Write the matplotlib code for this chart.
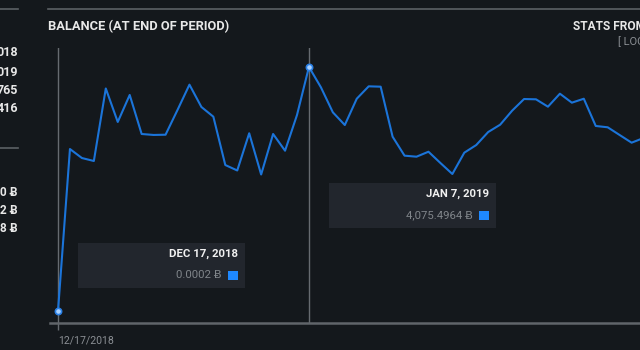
import numpy as np
import pandas as pd
import matplotlib
matplotlib.use("Agg")
import matplotlib.pyplot as plt
from matplotlib.patches import Rectangle

plt.rcParams['font.family'] = ['Roboto', 'DejaVu Sans']

# daily balance
start_date = "2018-12-17"
balance = [0.0002, 2705, 2555, 2505, 3716, 3157, 3608, 2956, 2940, 2944,
           3357, 3780, 3407, 3245, 2438, 2347, 2968, 2280, 2956, 2677,
           3273, 4075.4964, 3736, 3318, 3106, 3545, 3752, 3746, 2911, 2594,
           2577, 2660, 2472, 2288, 2644, 2772, 2989, 3111, 3345, 3540,
           3535, 3412, 3629, 3479, 3545, 3090, 3068, 2939, 2811, 2889]
dates = pd.date_range(start_date, periods=len(balance), freq="D")
tooltip_idx = [0, 21]

left_labels_top = ["018", "019", "765", "416"]
left_labels_bottom = ["0 \u0243", "2 \u0243", "8 \u0243"]

BG = "#14181c"
LINE = "#1b74d9"
GRID = "#5c6165"

W, H = 640, 350
fig = plt.figure(figsize=(6.4, 3.5), dpi=100, facecolor=BG)


def fx(x):
    return x / W


def fy(y):
    return 1 - y / H


# axes runs off the right edge like the screenshot
ax_l, ax_r, ax_t, ax_b = 49.5, 700, 48, 323
ax = fig.add_axes([fx(ax_l), fy(ax_b), (ax_r - ax_l) / W, (ax_b - ax_t) / H])
ax.set_facecolor(BG)

day_px = 11.95
x0 = dates[0] - pd.Timedelta(days=(58 - ax_l) / day_px)
x1 = dates[0] + pd.Timedelta(days=(ax_r - 58) / day_px)
ax.set_xlim(x0, x1)
ax.set_ylim(-200, 4392)

for i in tooltip_idx:
    ax.axvline(dates[i], color="#666b70", lw=1, zorder=1)

ax.plot(dates, balance, color=LINE, lw=1.5, zorder=2)
ax.plot(dates[tooltip_idx], [balance[i] for i in tooltip_idx], 'o', ms=4.5,
        mfc="#a9d1ff", mec="#2a80e6", mew=1.2, zorder=3)

for s in ["top", "right", "left"]:
    ax.spines[s].set_visible(False)
ax.spines["bottom"].set_color("#60656a")
ax.spines["bottom"].set_linewidth(1.8)
ax.set_yticks([])
ax.set_xticks([dates[0]])
ax.set_xticklabels([dates[0].strftime("%m/%d/%Y")], ha="left")
ax.tick_params(axis="x", colors="#666b70", length=5, width=1, pad=4,
               labelsize=7.6, labelcolor="#8a8e93")

# header lines and titles
fig.add_artist(plt.Line2D([fx(48), 1], [fy(8.5), fy(8.5)], color=GRID, lw=1.2))
fig.add_artist(plt.Line2D([0, fx(18)], [fy(8.5), fy(8.5)], color=GRID, lw=1.2))
fig.add_artist(plt.Line2D([0, fx(18)], [fy(148), fy(148)], color=GRID, lw=1.2))
fig.text(fx(48), fy(27), "BALANCE (AT END OF PERIOD)", color="#e8e8e8",
         fontsize=9.3, fontweight="bold", va="center", ha="left")
fig.text(fx(573), fy(27), "STATS FROM", color="#e8e8e8",
         fontsize=8.6, fontweight="bold", va="center", ha="left")
fig.text(fx(618), fy(42), "[ LOG", color="#8a8e93",
         fontsize=8, va="center", ha="left")

# cut-off side panel
for lab, y in zip(left_labels_top, [53, 72, 90, 109]):
    fig.text(fx(18), fy(y), lab, color="#e8e8e8", fontsize=9,
             fontweight="bold", va="center", ha="right")
for lab, y in zip(left_labels_bottom, [192, 211, 229]):
    fig.text(fx(18), fy(y), lab, color="#e8e8e8", fontsize=8.5,
             fontweight="bold", va="center", ha="right")

# tooltips
boxes = [(78, 243, 245, 288), (329, 183, 496, 228)]
for i, (bl, bt, br, bb) in zip(tooltip_idx, boxes):
    fig.add_artist(Rectangle((fx(bl), fy(bb)), (br - bl) / W, (bb - bt) / H,
                             transform=fig.transFigure, facecolor="#22262d",
                             edgecolor="none"))
    d = dates[i]
    fig.text(fx(br - 7), fy(bt + 11), f"{d.strftime('%b').upper()} {d.day}, {d.year}",
             color="#f0f0f0", fontsize=8.2, fontweight="bold", va="center", ha="right")
    fig.text(fx(br - 23), fy(bt + 32), f"{balance[i]:,.4f} \u0243",
             color="#80858a", fontsize=8.2, va="center", ha="right")
    fig.add_artist(Rectangle((fx(br - 17), fy(bt + 37)), 10 / W, 9 / H,
                             transform=fig.transFigure, facecolor="#1e88ff",
                             edgecolor="none"))

fig.savefig("out.png", dpi=100, facecolor=BG)
